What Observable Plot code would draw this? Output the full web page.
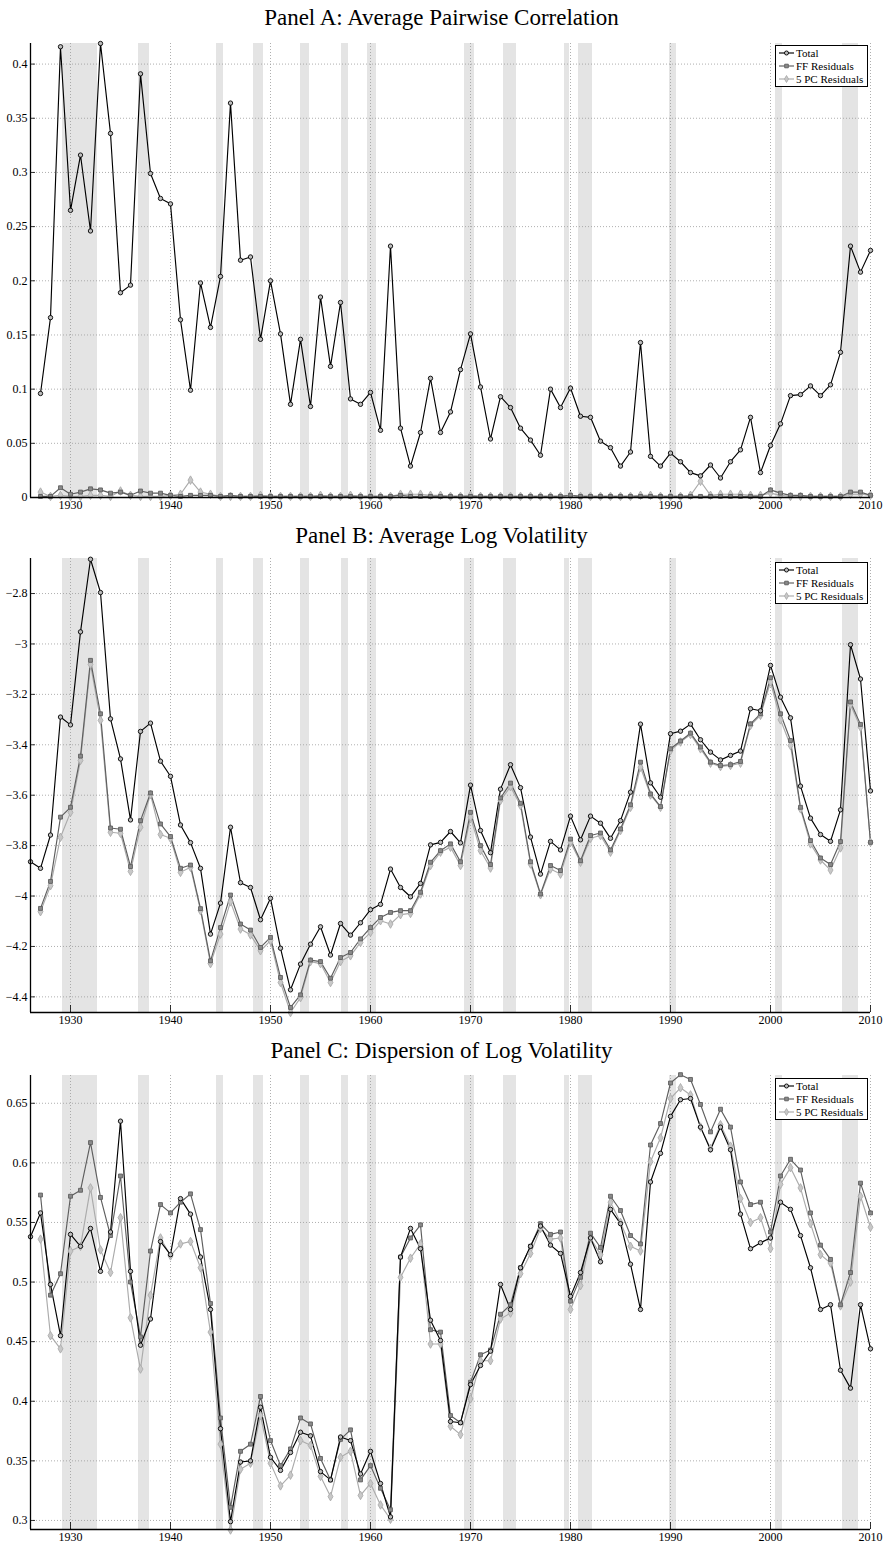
<!DOCTYPE html>
<html><head><meta charset="utf-8">
<script src="https://cdn.jsdelivr.net/npm/d3@7"></script>
<script src="https://cdn.jsdelivr.net/npm/@observablehq/plot@0.6"></script>
<style>
body{margin:0;background:#fff;}
#root{position:relative;width:883px;height:1543px;font-family:"Liberation Serif",serif;background:#fff;}
.title{position:absolute;left:0;width:883px;text-align:center;font-size:23px;line-height:23px;color:#000;font-family:"Liberation Serif",serif;}
.panel{position:absolute;left:0;}
.legend{position:absolute;background:#fff;border:1.5px solid #000;box-sizing:border-box;}
</style></head><body><div id="root"></div>
<script>
// ---------- DATA ----------
const decades = [1930, 1940, 1950, 1960, 1970, 1980, 1990, 2000, 2010];
const recessions = [
  [1929.2, 1932.7], [1936.8, 1937.9], [1944.6, 1945.3], [1948.3, 1949.3],
  [1953.0, 1953.9], [1957.1, 1957.8], [1959.7, 1960.6], [1969.4, 1970.4],
  [1973.3, 1974.6], [1979.4, 1979.9], [1980.8, 1982.2], [1989.9, 1990.6],
  [2000.5, 2001.2], [2007.2, 2008.8]
];
const seriesNames = ["Total", "FF Residuals", "5 PC Residuals"];

// Panel A (1927-2010)
const aStart = 1927;
const aTotal = [0.096,0.166,0.416,0.265,0.316,0.246,0.419,0.336,0.189,0.196,
 0.391,0.299,0.276,0.271,0.164,0.099,0.198,0.157,0.204,0.364,
 0.219,0.222,0.146,0.200,0.151,0.086,0.146,0.084,0.185,0.121,
 0.180,0.091,0.086,0.097,0.062,0.232,0.064,0.029,0.060,0.110,
 0.060,0.079,0.118,0.151,0.102,0.054,0.093,0.083,0.064,0.053,
 0.039,0.100,0.083,0.101,0.075,0.074,0.052,0.046,0.029,0.042,
 0.143,0.038,0.029,0.041,0.033,0.023,0.020,0.030,0.018,0.033,
 0.044,0.074,0.023,0.048,0.068,0.094,0.095,0.103,0.094,0.104,
 0.134,0.232,0.208,0.228];
const aFF = [0.001,0.001,0.009,0.003,0.005,0.008,0.007,0.004,0.005,0.002,
 0.006,0.004,0.004,0.002,0.001,0.002,0.002,0.002,0.001,0.002,
 0.001,0.001,0.001,0.001,0.001,0.001,0.001,0.001,0.001,0.001,
 0.001,0.001,0.001,0.001,0.001,0.001,0.002,0.001,0.001,0.001,
 0.001,0.001,0.001,0.001,0.001,0.001,0.001,0.001,0.001,0.001,
 0.001,0.001,0.001,0.002,0.001,0.001,0.001,0.001,0.001,0.001,
 0.001,0.001,0.001,0.001,0.001,0.001,0.001,0.001,0.001,0.001,
 0.001,0.001,0.001,0.007,0.004,0.002,0.002,0.001,0.001,0.001,
 0.001,0.005,0.005,0.002];
const aPC = [0.005,0.001,0.002,0.001,0.001,0.002,0.002,0.001,0.006,0.002,
 0.001,0.001,0.001,0.002,0.003,0.016,0.005,0.003,0.001,0.001,
 0.001,0.001,0.002,0.001,0.001,0.001,0.001,0.001,0.002,0.001,
 0.001,0.002,0.001,0.001,0.001,0.001,0.003,0.003,0.003,0.002,
 0.002,0.001,0.001,0.002,0.001,0.001,0.001,0.001,0.001,0.001,
 0.001,0.001,0.001,0.002,0.001,0.001,0.001,0.001,0.001,0.001,
 0.002,0.002,0.001,0.001,0.001,0.002,0.015,0.002,0.003,0.003,
 0.003,0.002,0.002,0.004,0.002,0.001,0.001,0.001,0.001,0.001,
 0.001,0.003,0.003,0.002];
const aTicks = [0, 0.05, 0.1, 0.15, 0.2, 0.25, 0.3, 0.35, 0.4];

// Panel B (Total 1926-2010, residuals 1927-2010)
const bTotalStart = 1926, bResStart = 1927;
const bTotal = [-3.864,-3.890,-3.758,-3.290,-3.321,-2.952,-2.664,-2.796,-3.297,-3.456,
 -3.698,-3.347,-3.314,-3.465,-3.525,-3.718,-3.788,-3.890,-4.151,-4.028,
 -3.727,-3.947,-3.966,-4.094,-4.009,-4.207,-4.372,-4.270,-4.191,-4.122,
 -4.234,-4.109,-4.155,-4.106,-4.054,-4.033,-3.893,-3.966,-4.003,-3.950,
 -3.797,-3.787,-3.744,-3.789,-3.560,-3.740,-3.828,-3.576,-3.479,-3.570,
 -3.766,-3.913,-3.783,-3.817,-3.683,-3.777,-3.683,-3.711,-3.771,-3.701,
 -3.588,-3.318,-3.551,-3.608,-3.356,-3.346,-3.318,-3.380,-3.429,-3.460,
 -3.442,-3.425,-3.257,-3.265,-3.085,-3.211,-3.293,-3.564,-3.691,-3.756,
 -3.783,-3.658,-3.003,-3.139,-3.583];
const bFF = [-4.049,-3.942,-3.687,-3.648,-3.445,-3.065,-3.277,-3.730,-3.735,-3.883,
 -3.701,-3.591,-3.714,-3.764,-3.890,-3.877,-4.050,-4.257,-4.125,-3.996,
 -4.111,-4.135,-4.204,-4.164,-4.323,-4.442,-4.392,-4.254,-4.260,-4.326,
 -4.244,-4.224,-4.170,-4.125,-4.085,-4.065,-4.058,-4.058,-3.985,-3.866,
 -3.820,-3.793,-3.864,-3.668,-3.800,-3.875,-3.611,-3.552,-3.632,-3.864,
 -3.992,-3.879,-3.899,-3.774,-3.860,-3.760,-3.750,-3.817,-3.734,-3.638,
 -3.469,-3.595,-3.645,-3.416,-3.385,-3.354,-3.409,-3.469,-3.482,-3.479,
 -3.466,-3.317,-3.277,-3.134,-3.277,-3.383,-3.648,-3.780,-3.849,-3.875,
 -3.784,-3.230,-3.319,-3.787];
const bPC = [-4.062,-3.959,-3.767,-3.668,-3.462,-3.081,-3.303,-3.747,-3.751,-3.902,
 -3.727,-3.597,-3.756,-3.771,-3.906,-3.886,-4.058,-4.268,-4.151,-4.023,
 -4.131,-4.154,-4.217,-4.177,-4.343,-4.462,-4.403,-4.260,-4.268,-4.343,
 -4.260,-4.237,-4.184,-4.144,-4.098,-4.111,-4.074,-4.069,-3.992,-3.879,
 -3.826,-3.806,-3.879,-3.687,-3.820,-3.889,-3.621,-3.566,-3.641,-3.873,
 -3.995,-3.893,-3.913,-3.787,-3.866,-3.771,-3.760,-3.826,-3.740,-3.648,
 -3.489,-3.599,-3.648,-3.423,-3.389,-3.359,-3.416,-3.473,-3.486,-3.482,
 -3.473,-3.323,-3.283,-3.151,-3.301,-3.403,-3.654,-3.793,-3.857,-3.897,
 -3.809,-3.241,-3.330,-3.787];
const bTicks = [-4.4, -4.2, -4, -3.8, -3.6, -3.4, -3.2, -3, -2.8];

// Panel C (Total 1926-2010, residuals 1927-2010)
const cTotalStart = 1926, cResStart = 1927;
const cTotal = [0.538,0.558,0.498,0.455,0.540,0.530,0.545,0.509,0.542,0.635,
 0.509,0.447,0.469,0.534,0.523,0.570,0.557,0.521,0.477,0.377,
 0.299,0.349,0.350,0.395,0.353,0.342,0.357,0.374,0.371,0.341,
 0.334,0.370,0.367,0.339,0.358,0.331,0.303,0.521,0.545,0.528,
 0.468,0.451,0.383,0.382,0.414,0.430,0.442,0.498,0.477,0.512,
 0.530,0.547,0.531,0.524,0.488,0.508,0.537,0.517,0.561,0.549,
 0.515,0.477,0.584,0.608,0.639,0.653,0.654,0.630,0.611,0.630,
 0.611,0.557,0.528,0.533,0.537,0.567,0.561,0.539,0.512,0.477,
 0.481,0.426,0.411,0.481,0.444];
const cFF = [0.573,0.489,0.507,0.572,0.577,0.617,0.571,0.539,0.589,0.500,
 0.454,0.526,0.565,0.558,0.567,0.574,0.544,0.482,0.386,0.311,
 0.358,0.364,0.404,0.367,0.346,0.360,0.386,0.381,0.352,0.334,
 0.368,0.376,0.334,0.346,0.327,0.309,0.521,0.537,0.548,0.460,
 0.458,0.388,0.382,0.416,0.439,0.443,0.473,0.481,0.512,0.530,
 0.549,0.540,0.542,0.484,0.504,0.541,0.529,0.572,0.560,0.539,
 0.532,0.615,0.633,0.667,0.674,0.670,0.649,0.626,0.645,0.630,
 0.584,0.565,0.567,0.542,0.589,0.603,0.594,0.558,0.531,0.519,
 0.481,0.508,0.583,0.558];
const cPC = [0.536,0.455,0.444,0.526,0.530,0.579,0.527,0.508,0.554,0.470,
 0.427,0.489,0.537,0.522,0.532,0.534,0.512,0.458,0.364,0.292,
 0.343,0.348,0.388,0.348,0.329,0.338,0.367,0.363,0.337,0.320,
 0.353,0.358,0.321,0.331,0.313,0.301,0.504,0.520,0.532,0.448,
 0.448,0.379,0.372,0.402,0.434,0.434,0.469,0.474,0.507,0.524,
 0.545,0.536,0.537,0.477,0.497,0.537,0.523,0.567,0.550,0.530,
 0.526,0.601,0.621,0.654,0.663,0.657,0.630,0.612,0.632,0.614,
 0.570,0.550,0.554,0.528,0.582,0.596,0.579,0.549,0.523,0.516,
 0.480,0.500,0.572,0.546];
const cTicks = [0.3, 0.35, 0.4, 0.45, 0.5, 0.55, 0.6, 0.65];

// ---------- STYLE ----------
const styles = {
  "Total":          {stroke: "#000000", fill: "#bdbdbd", symbol: "circle"},
  "FF Residuals":   {stroke: "#5e5e5e", fill: "#8a8a8a", symbol: "square"},
  "5 PC Residuals": {stroke: "#ababab", fill: "#c8c8c8", symbol: "diamond"}
};

function rows(name, start, values) {
  return values.map((v, i) => ({year: start + i, value: v, series: name}));
}
const fmt = d => String(+d.toFixed(2)).replace("-", "\u2212");

function panel(cfg) {
  const [y0, y1] = cfg.yDomain;
  const H = 481, mt = 5, mb = 22, ml = 30, mr = 13;
  const frameH = H - mt - mb;
  const tickY = (y1 - y0) * 5 / frameH;
  const tickX = 84 * 5 / (883 - ml - mr);
  const sets = [
    rows("5 PC Residuals", cfg.resStart, cfg.pc),
    rows("FF Residuals", cfg.resStart, cfg.ff),
    rows("Total", cfg.totalStart, cfg.total)
  ];
  const lineMarks = [];
  for (const s of sets) {
    const st = styles[s[0].series];
    lineMarks.push(Plot.line(s, {x: "year", y: "value", stroke: st.stroke, strokeWidth: 1.15}));
  }
  for (const s of sets) {
    const st = styles[s[0].series];
    lineMarks.push(Plot.dot(s, {x: "year", y: "value", symbol: st.symbol, r: st.symbol === "diamond" ? 2.6 : 2.2,
      stroke: st.stroke, fill: st.fill, strokeWidth: 0.9}));
  }
  return Plot.plot({
    width: 883, height: H, marginLeft: ml, marginRight: mr, marginTop: mt, marginBottom: mb,
    x: {domain: [1926, 2010]},
    y: {domain: cfg.yDomain},
    style: {fontFamily: "Liberation Serif, Times New Roman, serif", fontSize: "12px", color: "#000", background: "transparent"},
    marks: [
      Plot.rect(recessions, {x1: d => d[0], x2: d => d[1], fill: "#e4e4e4"}),
      Plot.gridY(cfg.yTicks, {stroke: "#9a9a9a", strokeOpacity: 1, strokeDasharray: "1,2", strokeWidth: 0.8}),
      Plot.gridX(decades, {stroke: "#9a9a9a", strokeOpacity: 1, strokeDasharray: "1,2", strokeWidth: 0.8}),
      Plot.ruleY(cfg.yTicks, {y: d => d, x1: 1926, x2: 1926 + tickX, stroke: "#000", strokeWidth: 0.8}),
      Plot.ruleX(decades, {x: d => d, y1: y0, y2: y0 + tickY * 1.4, stroke: "#000", strokeWidth: 0.8}),
      ...lineMarks,
      Plot.ruleX([1926], {stroke: "#000", strokeWidth: 1.3}),
      Plot.ruleY([y0], {stroke: "#000", strokeWidth: 1.3}),
      Plot.axisY(cfg.yTicks, {tickSize: 0, tickPadding: 3, tickFormat: fmt, label: null}),
      Plot.axisX(decades, {tickSize: 0, tickPadding: 3, tickFormat: d => String(d), label: null})
    ]
  });
}

function legend(left, top) {
  const div = document.createElement("div");
  div.className = "legend";
  div.style.left = left + "px"; div.style.top = top + "px";
  div.style.width = "93px"; div.style.height = "42px";
  const ns = "http://www.w3.org/2000/svg";
  const svg = document.createElementNS(ns, "svg");
  svg.setAttribute("width", 90); svg.setAttribute("height", 39);
  svg.style.position = "absolute"; svg.style.left = "0"; svg.style.top = "0";
  seriesNames.forEach((name, i) => {
    const st = styles[name];
    const y = 7 + i * 13;
    const ln = document.createElementNS(ns, "line");
    ln.setAttribute("x1", 3); ln.setAttribute("x2", 18); ln.setAttribute("y1", y); ln.setAttribute("y2", y);
    ln.setAttribute("stroke", st.stroke); ln.setAttribute("stroke-width", 1.15);
    svg.appendChild(ln);
    const p = document.createElementNS(ns, "path");
    const sym = st.symbol === "circle" ? d3.symbolCircle : st.symbol === "square" ? d3.symbolSquare : d3.symbolDiamond;
    p.setAttribute("d", d3.symbol(sym, st.symbol === "diamond" ? 14 : 13)());
    p.setAttribute("transform", `translate(10.5,${y})`);
    p.setAttribute("fill", st.fill); p.setAttribute("stroke", st.stroke); p.setAttribute("stroke-width", 0.9);
    svg.appendChild(p);
    const t = document.createElementNS(ns, "text");
    t.setAttribute("x", 20); t.setAttribute("y", y + 3.8);
    t.setAttribute("font-family", "Liberation Serif, serif"); t.setAttribute("font-size", "11px");
    t.textContent = name;
    svg.appendChild(t);
  });
  div.appendChild(svg);
  return div;
}

const root = document.getElementById("root");
function addTitle(text, top) {
  const d = document.createElement("div");
  d.className = "title"; d.style.top = top + "px"; d.textContent = text;
  root.appendChild(d);
}
function addPanel(chart, top) {
  const d = document.createElement("div");
  d.className = "panel"; d.style.top = top + "px";
  d.appendChild(chart);
  root.appendChild(d);
}

addTitle("Panel A: Average Pairwise Correlation", 6);
addPanel(panel({total: aTotal, totalStart: aStart, ff: aFF, pc: aPC, resStart: aStart,
  yDomain: [0, 0.419], yTicks: aTicks}), 38);
root.appendChild(legend(775, 45));

addTitle("Panel B: Average Log Volatility", 524);
addPanel(panel({total: bTotal, totalStart: bTotalStart, ff: bFF, pc: bPC, resStart: bResStart,
  yDomain: [-4.462, -2.661], yTicks: bTicks}), 553);
root.appendChild(legend(775, 562));

addTitle("Panel C: Dispersion of Log Volatility", 1039);
addPanel(panel({total: cTotal, totalStart: cTotalStart, ff: cFF, pc: cPC, resStart: cResStart,
  yDomain: [0.2924, 0.6733], yTicks: cTicks}), 1070);
root.appendChild(legend(775, 1078));
</script></body></html>
